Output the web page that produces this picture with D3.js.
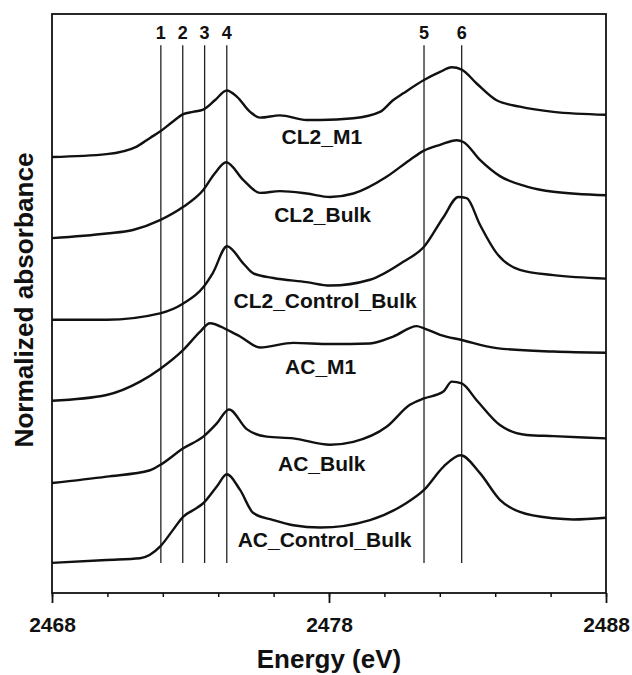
<html>
<head>
<meta charset="utf-8">
<title>XANES</title>
<style>
  body { margin: 0; background: #fff; }
  text { font-family: "Liberation Sans", Arial, sans-serif; font-weight: bold; fill: #111; }
</style>
</head>
<body>
<script src="https://cdn.jsdelivr.net/npm/d3@7"></script>
<script>
// spectra: [energy (eV), normalized absorbance + offset]
var cl2M1 = [[2468.00,7.53],[2469.97,7.58],[2471.06,7.71],[2471.54,7.86],[2471.90,7.97],[2472.33,8.13],[2472.74,8.27],[2473.09,8.31],[2473.46,8.35],[2473.88,8.51],[2474.31,8.68],[2474.68,8.57],[2475.15,8.31],[2475.51,8.21],[2476.23,8.25],[2477.19,8.17],[2477.68,8.17],[2478.88,8.20],[2479.84,8.31],[2480.31,8.51],[2480.68,8.63],[2481.43,8.86],[2482.01,9.00],[2482.43,9.08],[2482.79,9.04],[2483.33,8.80],[2484.05,8.51],[2484.89,8.40],[2486.10,8.31],[2488.00,8.26]];
var cl2Bulk = [[2468.00,6.13],[2469.97,6.21],[2470.92,6.27],[2471.90,6.44],[2472.74,6.67],[2473.46,6.96],[2473.88,7.25],[2474.29,7.44],[2474.91,7.13],[2475.51,6.91],[2476.23,6.94],[2477.19,6.90],[2478.04,6.84],[2478.88,6.90],[2480.08,7.19],[2480.92,7.48],[2481.43,7.64],[2482.01,7.74],[2482.61,7.82],[2482.85,7.79],[2483.45,7.48],[2484.17,7.20],[2485.14,7.02],[2486.10,6.93],[2488.00,6.87]];
var cl2CtrlBulk = [[2468.00,4.72],[2469.97,4.72],[2471.90,4.83],[2472.74,5.00],[2473.46,5.28],[2473.81,5.53],[2474.32,5.99],[2474.91,5.69],[2475.27,5.52],[2475.99,5.44],[2477.19,5.37],[2478.04,5.31],[2479.48,5.41],[2480.68,5.72],[2481.43,5.98],[2482.13,6.49],[2482.67,6.84],[2482.97,6.82],[2483.45,6.36],[2484.05,5.87],[2484.89,5.58],[2486.10,5.49],[2488.00,5.43]];
var acM1 = [[2468.00,3.32],[2469.97,3.42],[2471.18,3.65],[2471.90,3.87],[2472.74,4.20],[2473.34,4.51],[2473.70,4.66],[2474.31,4.55],[2474.79,4.43],[2475.51,4.24],[2476.71,4.32],[2478.04,4.30],[2479.48,4.31],[2480.32,4.43],[2481.17,4.61],[2481.43,4.57],[2482.01,4.46],[2482.79,4.37],[2484.05,4.23],[2486.10,4.17],[2488.00,4.15]];
var acBulk = [[2468.00,1.90],[2469.97,2.01],[2471.54,2.12],[2471.90,2.21],[2472.74,2.50],[2473.46,2.70],[2473.95,2.93],[2474.39,3.17],[2475.03,2.83],[2475.75,2.70],[2476.71,2.67],[2478.04,2.56],[2478.88,2.61],[2480.08,2.87],[2480.92,3.25],[2481.43,3.36],[2482.13,3.48],[2482.43,3.65],[2482.79,3.62],[2483.33,3.33],[2484.17,2.90],[2485.14,2.73],[2486.10,2.71],[2488.00,2.67]];
var acCtrlBulk = [[2468.00,0.52],[2469.97,0.57],[2471.18,0.60],[2471.90,0.80],[2472.37,1.09],[2472.74,1.32],[2473.09,1.43],[2473.46,1.55],[2473.95,1.84],[2474.31,2.05],[2474.79,1.78],[2475.27,1.38],[2475.99,1.26],[2476.71,1.17],[2477.68,1.13],[2479.48,1.26],[2480.68,1.52],[2481.43,1.78],[2482.13,2.18],[2482.75,2.38],[2483.45,2.07],[2484.17,1.61],[2484.89,1.40],[2486.10,1.29],[2486.82,1.27],[2488.00,1.30]];

var series = [cl2M1, cl2Bulk, cl2CtrlBulk, acM1, acBulk, acCtrlBulk];
var seriesNames = ["CL2_M1", "CL2_Bulk", "CL2_Control_Bulk", "AC_M1", "AC_Bulk", "AC_Control_Bulk"];
// label anchor (energy, absorbance) for each series name
var nameEnergy = [2477.74, 2477.77, 2477.86, 2477.70, 2477.74, 2477.84];
var nameLevel = [7.75, 6.41, 4.92, 3.79, 2.10, 0.80];

var peakEnergies = [2471.93, 2472.72, 2473.51, 2474.31, 2481.43, 2482.79];
var peakNames = ["1", "2", "3", "4", "5", "6"];
var peakSpan = [0.52, 9.46];

var xDomain = [2468, 2488];
var majorTicks = [2468, 2478, 2488];
var minorTicks = d3.range(2468, 2489, 2);

var width = 632, height = 675;
var mLeft = 52, mRight = 606, mTop = 14, mBottom = 593;

var svg = d3.select("body").append("svg")
    .attr("width", width)
    .attr("height", height);

var x = d3.scaleLinear().domain(xDomain).range([mLeft, mRight]);
var y = d3.scaleLinear().domain([0, 10]).range([mBottom, mTop]);

// frame
svg.append("rect")
    .attr("x", mLeft).attr("y", mTop)
    .attr("width", mRight - mLeft).attr("height", mBottom - mTop)
    .attr("fill", "none").attr("stroke", "#111").attr("stroke-width", 1.8);

// bottom axis ticks (minor then major)
svg.append("g")
    .attr("transform", "translate(0," + mBottom + ")")
    .call(d3.axisBottom(x).tickValues(minorTicks).tickSize(4).tickFormat(""))
    .call(function (g) { g.select(".domain").remove(); })
    .selectAll("line").attr("stroke", "#111").attr("stroke-width", 1.5);

var ax = svg.append("g")
    .attr("transform", "translate(0," + mBottom + ")")
    .call(d3.axisBottom(x).tickValues(majorTicks).tickSize(10).tickPadding(14).tickFormat(d3.format("d")));
ax.select(".domain").remove();
ax.selectAll("line").attr("stroke", "#111").attr("stroke-width", 1.8);
ax.selectAll("text")
    .attr("font-size", 21)
    .attr("font-family", "Liberation Sans, Arial, sans-serif")
    .attr("font-weight", "bold")
    .attr("fill", "#111");

// peak lines
svg.selectAll(".peak")
    .data(peakEnergies)
    .enter()
    .append("line")
    .attr("x1", function (d) { return x(d); })
    .attr("x2", function (d) { return x(d); })
    .attr("y1", y(peakSpan[0]))
    .attr("y2", y(peakSpan[1]))
    .attr("stroke", "#222")
    .attr("stroke-width", 1.3);

svg.selectAll(".peakName")
    .data(peakEnergies)
    .enter()
    .append("text")
    .attr("x", function (d) { return x(d); })
    .attr("y", y(peakSpan[1]) - 6.5)
    .attr("text-anchor", "middle")
    .attr("font-size", 18)
    .text(function (d, i) { return peakNames[i]; });

// spectra
var line = d3.line()
    .x(function (d) { return x(d[0]); })
    .y(function (d) { return y(d[1]); })
    .curve(d3.curveMonotoneX);

svg.selectAll(".spec")
    .data(series)
    .enter()
    .append("path")
    .attr("d", line)
    .attr("fill", "none")
    .attr("stroke", "#111")
    .attr("stroke-width", 2.4)
    .attr("stroke-linejoin", "round");

svg.selectAll(".specName")
    .data(seriesNames)
    .enter()
    .append("text")
    .attr("x", function (d, i) { return x(nameEnergy[i]); })
    .attr("y", function (d, i) { return y(nameLevel[i]); })
    .attr("text-anchor", "middle")
    .attr("font-size", 21)
    .text(function (d) { return d; });

// axis titles
svg.append("text")
    .attr("x", (mLeft + mRight) / 2)
    .attr("y", 668)
    .attr("text-anchor", "middle")
    .attr("font-size", 26)
    .text("Energy (eV)");

svg.append("text")
    .attr("transform", "translate(33,300) rotate(-90)")
    .attr("text-anchor", "middle")
    .attr("font-size", 26)
    .attr("textLength", 295)
    .attr("lengthAdjust", "spacingAndGlyphs")
    .text("Normalized absorbance");
</script>
</body>
</html>
